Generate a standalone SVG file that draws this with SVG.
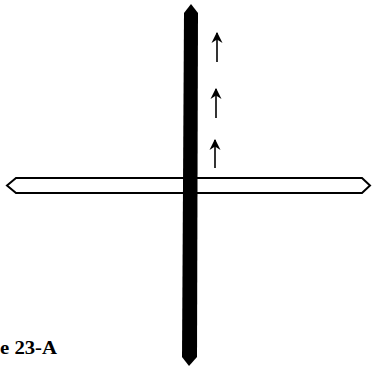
<svg xmlns="http://www.w3.org/2000/svg" width="372" height="369" viewBox="0 0 372 369">
<style>
.arrow{stroke:#000;stroke-width:1.6;fill:none}
.label{font-family:"Liberation Serif","Times New Roman",serif;font-weight:bold;font-size:18px;fill:#000}
</style>
<defs>
<marker id="ah" viewBox="0 0 10 10" refX="9" refY="5" markerWidth="11" markerHeight="12" markerUnits="userSpaceOnUse" orient="auto">
<path d="M0,0 L10,5 L0,10 L3,5 Z" fill="#000"/>
</marker>
</defs>
<rect width="372" height="369" fill="#fff"/>
<g id="horizontal-bar">
<path d="M7,185.5 L16,178 L362,178 L370,185.5 L362,193 L16,193 Z" fill="#fff" stroke="#000" stroke-width="2"/>
</g>
<g id="vertical-bar">
<path d="M191,4 L198,13 L197,357 L189,366 L182,357 L184,13 Z" fill="#000"/>
</g>
<g id="connectors">
<line class="arrow" x1="217" y1="62" x2="217" y2="33" marker-end="url(#ah)"/>
<line class="arrow" x1="216" y1="118" x2="216" y2="89" marker-end="url(#ah)"/>
<line class="arrow" x1="215" y1="168" x2="215" y2="140" marker-end="url(#ah)"/>
</g>
<g id="caption">
<text class="label" x="0" y="354" textLength="57" lengthAdjust="spacingAndGlyphs">e 23-A</text>
</g>
</svg>
